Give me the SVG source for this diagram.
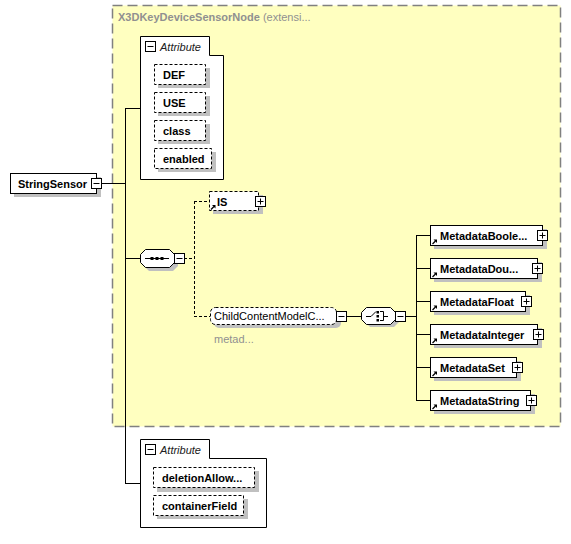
<svg xmlns="http://www.w3.org/2000/svg" width="571" height="544" viewBox="0 0 571 544">
<style>
.bx{fill:#fff;stroke:#000;stroke-width:1}
.dbx{fill:#fff;stroke:#000;stroke-width:1;stroke-dasharray:3,2}
.sh{fill:#c0c0c0}
.ln{fill:none;stroke:#000;stroke-width:1}
.dl{fill:none;stroke:#000;stroke-width:1;stroke-dasharray:3,2}
.t{font-family:"Liberation Sans",Arial,sans-serif;font-size:11px;font-weight:bold;fill:#000}
.tn{font-family:"Liberation Sans",Arial,sans-serif;font-size:11px;fill:#000}
.ti{font-family:"Liberation Sans",Arial,sans-serif;font-size:11px;font-style:italic;fill:#202020}
.g{font-family:"Liberation Sans",Arial,sans-serif;font-size:11px;fill:#909090}
</style>
<defs>
<g id="minus"><rect x="0" y="0" width="10" height="10" fill="#fff" stroke="#000"/><path d="M2,5H8" stroke="#000"/></g>
<g id="plus"><rect x="0" y="0" width="10" height="10" fill="#fff" stroke="#000"/><path d="M2,5H8M5,2V8" stroke="#000"/></g>
<g id="ref"><path d="M0.5,4.5L3.5,1.5" stroke="#000" stroke-width="1.2"/><path d="M1.5,0H5V3.5Z" fill="#000"/></g>
</defs>

<g id="extension">
<rect x="112.5" y="5.5" width="448" height="421" fill="#ffffc0" stroke="#808080" stroke-width="1.5" stroke-dasharray="10,5"/>
<text x="118" y="21" class="g"><tspan font-weight="bold">X3DKeyDeviceSensorNode</tspan> (extensi...</text>
</g>

<g id="connectors">
<path class="ln" d="M102,183.5H125.5M125.5,108V483M125,108.5H140M125,258.5H140M125,483.5H140"/>
<path class="dl" d="M184,258.5H194.5M194.5,201V316.5M194,201.5H209M194,316.5H210"/>
<path class="ln" d="M347,316.5H361M405,316.5H416.5M416.5,235V400M416,235.5H430M416,268.5H430M416,301.5H430M416,334.5H430M416,367.5H430M416,400.5H430"/>
</g>

<g id="StringSensor">
<rect class="sh" x="14" y="177" width="87" height="20"/>
<rect class="bx" x="10.5" y="173.5" width="86" height="20"/>
<text x="18" y="188" class="t">StringSensor</text>
<use href="#minus" x="91.5" y="178.5"/>
</g>

<g id="attributes1">
<path class="bx" d="M140.5,36.5H209.5V55.5H223.5V179.5H140.5Z"/>
<use href="#minus" x="145.5" y="41.5"/>
<text x="160" y="51" class="ti">Attribute</text>
<g id="DEF"><rect class="sh" x="158" y="68" width="52" height="20"/><rect class="dbx" x="154.5" y="64.5" width="51" height="20"/><text x="163" y="79" class="t">DEF</text></g>
<g id="USE"><rect class="sh" x="158" y="96" width="52" height="20"/><rect class="dbx" x="154.5" y="92.5" width="51" height="20"/><text x="163" y="107" class="t">USE</text></g>
<g id="class"><rect class="sh" x="158" y="124" width="52" height="20"/><rect class="dbx" x="154.5" y="120.5" width="51" height="20"/><text x="163" y="135" class="t">class</text></g>
<g id="enabled"><rect class="sh" x="158" y="152" width="58" height="20"/><rect class="dbx" x="154.5" y="148.5" width="57" height="20"/><text x="163" y="163" class="t">enabled</text></g>
</g>

<g id="sequence">
<path class="sh" d="M149,253H173L178,258V266L173,271H149L144,266V258Z"/>
<path class="bx" d="M145.5,249.5H169.5L174.5,254.5V262.5L169.5,267.5H145.5L140.5,262.5V254.5Z"/>
<path d="M145,258.5H169" stroke="#000"/>
<rect x="150.5" y="257" width="3" height="3" fill="#000"/>
<rect x="155.5" y="257" width="3" height="3" fill="#000"/>
<rect x="160.5" y="257" width="3" height="3" fill="#000"/>
<use href="#minus" x="174.5" y="253.5"/>
</g>

<g id="IS">
<rect class="sh" x="213" y="195" width="50" height="19"/>
<rect class="dbx" x="209.5" y="191.5" width="49" height="19"/>
<use href="#ref" x="210.5" y="205"/>
<text x="217" y="206" class="t">IS</text>
<use href="#plus" x="255.5" y="196.5"/>
</g>

<g id="ChildContentModelCore">
<rect class="sh" x="214" y="311" width="127" height="17" rx="5"/>
<rect class="dbx" x="210.5" y="307.5" width="126" height="17" rx="5"/>
<text x="214" y="320" class="tn" fill="#000030">ChildContentModelC...</text>
<use href="#minus" x="336.5" y="311.5"/>
<text x="214" y="343" class="g" font-size="10px">metad...</text>
</g>

<g id="choice">
<path class="sh" d="M370,311H394L399,316V322L394,327H370L365,322V316Z"/>
<path class="bx" d="M366.5,307.5H390.5L395.5,312.5V319.5L390.5,324.5H366.5L361.5,319.5V312.5Z"/>
<path d="M366,316.5H371L376,311.5" stroke="#000" fill="none"/>
<rect x="376.5" y="311" width="2.5" height="2.5" fill="#000"/>
<rect x="376.5" y="315" width="2.5" height="2.5" fill="#000"/>
<rect x="376.5" y="319" width="2.5" height="2.5" fill="#000"/>
<path d="M380,311.5H383.5V320.5H380M383.5,316.5H388" stroke="#000" fill="none"/>
<use href="#minus" x="395.5" y="311.5"/>
</g>

<g id="MetadataBoolean">
<rect class="sh" x="434" y="229" width="113" height="20"/>
<rect class="bx" x="430.5" y="225.5" width="112" height="20"/>
<use href="#ref" x="432" y="239.5"/>
<text x="440" y="240" class="t">MetadataBoole...</text>
<use href="#plus" x="537.5" y="230.5"/>
</g>
<g id="MetadataDouble">
<rect class="sh" x="434" y="262" width="108" height="20"/>
<rect class="bx" x="430.5" y="258.5" width="107" height="20"/>
<use href="#ref" x="432" y="272.5"/>
<text x="440" y="273" class="t">MetadataDou...</text>
<use href="#plus" x="532.5" y="263.5"/>
</g>
<g id="MetadataFloat">
<rect class="sh" x="434" y="295" width="96" height="20"/>
<rect class="bx" x="430.5" y="291.5" width="95" height="20"/>
<use href="#ref" x="432" y="305.5"/>
<text x="440" y="306" class="t">MetadataFloat</text>
<use href="#plus" x="521.5" y="296.5"/>
</g>
<g id="MetadataInteger">
<rect class="sh" x="434" y="328" width="108" height="20"/>
<rect class="bx" x="430.5" y="324.5" width="107" height="20"/>
<use href="#ref" x="432" y="338.5"/>
<text x="440" y="339" class="t">MetadataInteger</text>
<use href="#plus" x="533.5" y="329.5"/>
</g>
<g id="MetadataSet">
<rect class="sh" x="434" y="361" width="87" height="20"/>
<rect class="bx" x="430.5" y="357.5" width="86" height="20"/>
<use href="#ref" x="432" y="371.5"/>
<text x="440" y="372" class="t">MetadataSet</text>
<use href="#plus" x="512.5" y="362.5"/>
</g>
<g id="MetadataString">
<rect class="sh" x="434" y="394" width="101" height="20"/>
<rect class="bx" x="430.5" y="390.5" width="100" height="20"/>
<use href="#ref" x="432" y="404.5"/>
<text x="440" y="405" class="t">MetadataString</text>
<use href="#plus" x="526.5" y="395.5"/>
</g>

<g id="attributes2">
<path class="bx" d="M140.5,439.5H209.5V458.5H266.5V527.5H140.5Z"/>
<use href="#minus" x="145.5" y="444.5"/>
<text x="160" y="454" class="ti">Attribute</text>
<g id="deletionAllowed"><rect class="sh" x="157" y="471" width="102" height="21"/><rect class="dbx" x="153.5" y="467.5" width="101" height="20"/><text x="162" y="482" class="t">deletionAllow...</text></g>
<g id="containerField"><rect class="sh" x="157" y="499" width="91" height="20"/><rect class="dbx" x="153.5" y="495.5" width="90" height="20"/><text x="162" y="510" class="t">containerField</text></g>
</g>
</svg>
